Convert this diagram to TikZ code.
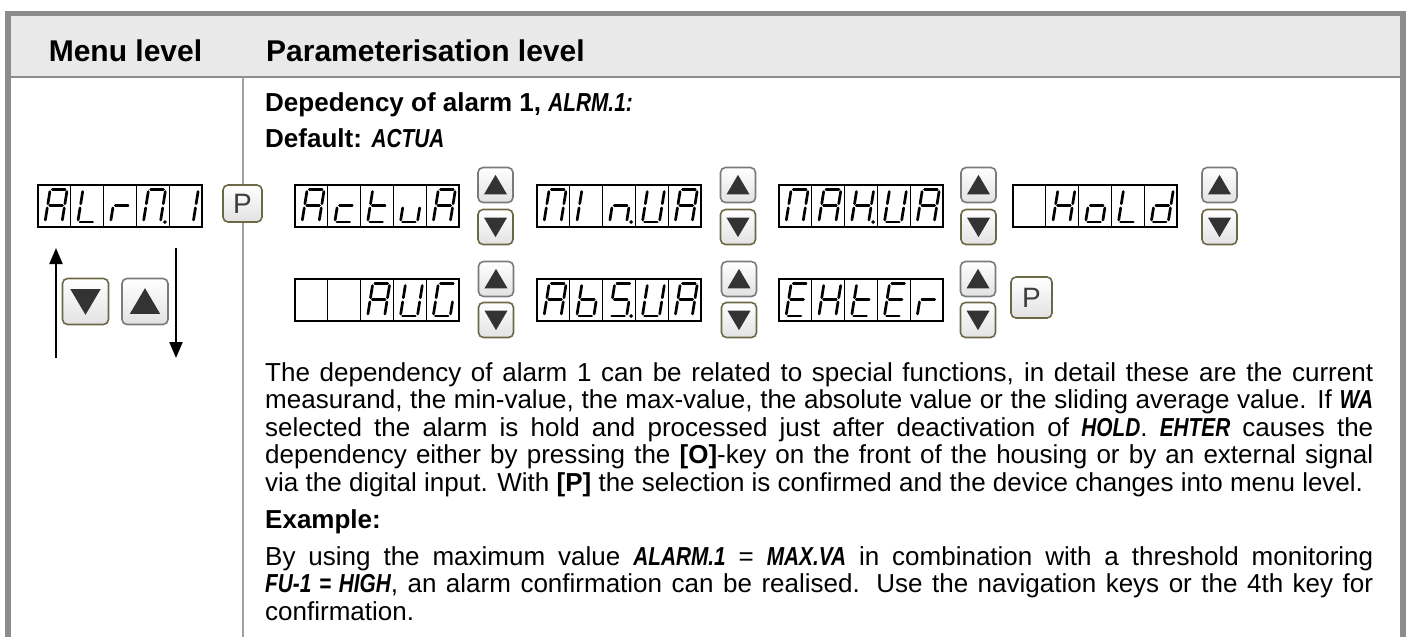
\documentclass[tikz,border=0pt]{standalone}
\usepackage{fontspec}
\setmainfont{Liberation Sans}
\newfontfamily\lcdfont{Liberation Sans}[FakeStretch=0.8]
\usetikzlibrary{calc,arrows.meta}
\definecolor{framegray}{HTML}{8C8C8C}
\definecolor{headfill}{HTML}{E9E9E9}
\definecolor{divgray}{HTML}{A0A0A0}
\definecolor{upgray}{HTML}{7A7A7A}
\definecolor{dnolive}{HTML}{6B6945}
\definecolor{trigray}{HTML}{333333}
\definecolor{pgray}{HTML}{3C3C3C}
\definecolor{keybot}{HTML}{E2E2E2}
\newcommand\lcdt[1]{{\lcdfont\bfseries\itshape #1}}
\makeatletter
\newcommand\segline[2]{\draw[seg] ($(#1)!2.1pt!(#2)$) -- ($(#2)!2.1pt!(#1)$);}
\def\seg@a{\segline{sTL}{sTR}}
\def\seg@b{\segline{sTR}{sMR}}
\def\seg@c{\segline{sMR}{sBR}}
\def\seg@d{\segline{sBL}{sBR}}
\def\seg@e{\segline{sML}{sBL}}
\def\seg@f{\segline{sTL}{sML}}
\def\seg@g{\segline{sML}{sMR}}
\def\seg@p{\fill (sDP) circle (1.9pt);}
\makeatother
\newcommand\lcdcell[3]{%
  \coordinate (sTL) at ({#1+12.2},{#2+4.5});
  \coordinate (sTR) at ({#1+29.2},{#2+4.5});
  \coordinate (sML) at ({#1+9.6},{#2+20.8});
  \coordinate (sMR) at ({#1+26.6},{#2+20.8});
  \coordinate (sBL) at ({#1+7},{#2+37});
  \coordinate (sBR) at ({#1+24},{#2+37});
  \coordinate (sDP) at ({#1+28.5},{#2+37});
  \foreach \s in {#3}{\csname seg@\s\endcsname}}
\newcommand\lcd[8]{%
  \node[lcdbox, anchor=north west] (#1) at (#2,#3) {};
  \foreach \k in {1,...,4}{\draw[lcdgrid] ($(#1.north west)+(\k*32.8,0)$) -- ($(#1.south west)+(\k*32.8,0)$);}
  \lcdcell{#2}{#3}{#4}\lcdcell{#2+32.8}{#3}{#5}\lcdcell{#2+65.6}{#3}{#6}%
  \lcdcell{#2+98.4}{#3}{#7}\lcdcell{#2+131.2}{#3}{#8}}
\newcommand\keyup[4]{%
  \node[keybox, draw=upgray, minimum width=#4pt, minimum height=#4pt] (#1) at (#2,#3) {};
  \fill[tri] ($(#1.center)+(0,-0.29*#4)$) -- ($(#1.center)+(0.33*#4,0.27*#4)$) -- ($(#1.center)+(-0.33*#4,0.27*#4)$) -- cycle;}
\newcommand\keydown[4]{%
  \node[keybox, draw=dnolive, minimum width=#4pt, minimum height=#4pt] (#1) at (#2,#3) {};
  \fill[tri] ($(#1.center)+(0,0.29*#4)$) -- ($(#1.center)+(0.33*#4,-0.27*#4)$) -- ($(#1.center)+(-0.33*#4,-0.27*#4)$) -- cycle;}
\tikzset{
  seg/.style={line width=2.7pt, line cap=round},
  lcdbox/.style={draw, line width=1.1pt, fill=white, minimum width=164pt, minimum height=42pt, inner sep=0pt, outer sep=0pt},
  lcdgrid/.style={line width=1.1pt},
  keybox/.style={rounded corners=5pt, line width=1.6pt, top color=white, bottom color=keybot, inner sep=0pt, outer sep=0pt},
  pkey/.style={keybox, draw=dnolive, text=pgray, font=\fontsize{28}{28}\selectfont},
  tri/.style={fill=trigray},
  navarrow/.style={line width=2.2pt, -{Triangle[length=16pt,width=13pt]}},
  body/.style={anchor=base west, inner sep=0pt, font=\fontsize{26}{28}\selectfont},
  bodybf/.style={anchor=base west, inner sep=0pt, font=\fontsize{26}{28}\selectfont\bfseries},
  hdr/.style={inner sep=0pt, font=\fontsize{30}{32}\selectfont\bfseries},
  framel/.style={draw=framegray, line width=5.5pt},
}
\begin{document}
\begin{tikzpicture}[x=1pt, y=-1pt]
\useasboundingbox (0,0) rectangle (1406,637);
% frame and header
\fill[headfill] (8,13) rectangle (1403,77);
\draw[framel] (8,640) -- (8,13.3) -- (1403,13.3) -- (1403,640);
\draw[draw=framegray, line width=2.5pt] (8,77) -- (1403,77);
\draw[draw=divgray, line width=2pt] (243,77) -- (243,640);
\node[hdr, anchor=base] (h1) at (125.5,61) {Menu level};
\node[hdr, anchor=base west] (h2) at (266,61) {Parameterisation level};
% titles
\node[bodybf] (t1) at (265,111) {Depedency of alarm 1, \lcdt{ALRM.1:}};
\node[bodybf] (t2) at (265,147) {Default: \lcdt{ACTUA}};
% menu level
\lcd{dm}{38}{185}{a,b,c,e,f,g}{d,e,f}{e,g}{a,b,c,e,f,p}{b,c}
\node[pkey, minimum width=39pt, minimum height=37pt] (p1) at (242.5,203.5) {P};
\coordinate (ua0) at (56,358); \coordinate (ua1) at (56,248);
\coordinate (da0) at (176,248); \coordinate (da1) at (176,358);
\draw[navarrow] (ua0) -- (ua1);
\draw[navarrow] (da0) -- (da1);
\keydown{lkd}{85.5}{301.5}{46}
\keyup{lku}{145}{301.5}{46}
% row 1
\lcd{d1}{295}{185}{a,b,c,e,f,g}{d,e,g}{d,e,f,g}{c,d,e}{a,b,c,e,f,g}
\keyup{k1u}{495.5}{185}{35}\keydown{k1d}{495.5}{227}{35}
\lcd{d2}{537}{185}{a,b,c,e,f}{e,f}{c,e,g,p}{b,c,d,e,f}{a,b,c,e,f,g}
\keyup{k2u}{738}{185}{35}\keydown{k2d}{738}{227}{35}
\lcd{d3}{779}{185}{a,b,c,e,f}{a,b,c,e,f,g}{b,c,e,f,g,p}{b,c,d,e,f}{a,b,c,e,f,g}
\keyup{k3u}{978.5}{185}{35}\keydown{k3d}{978.5}{227}{35}
\lcd{d4}{1013}{185}{}{b,c,e,f,g}{c,d,e,g}{d,e,f}{b,c,d,e,g}
\keyup{k4u}{1219.5}{185}{35}\keydown{k4d}{1219.5}{227}{35}
% row 2
\lcd{d5}{295}{279}{}{}{a,b,c,e,f,g}{b,c,d,e,f}{a,c,d,e,f}
\keyup{k5u}{496}{279}{35}\keydown{k5d}{496}{320}{35}
\lcd{d6}{537}{279}{a,b,c,e,f,g}{c,d,e,f,g}{a,c,d,f,g,p}{b,c,d,e,f}{a,b,c,e,f,g}
\keyup{k6u}{739}{279}{35}\keydown{k6d}{739}{320}{35}
\lcd{d7}{779}{279}{a,d,e,f,g}{b,c,e,f,g}{d,e,f,g}{a,d,e,f,g}{e,g}
\keyup{k7u}{978}{279}{35}\keydown{k7d}{978}{320}{35}
\node[pkey, minimum width=41pt, minimum height=41pt] (p2) at (1031.5,297.5) {P};
% body text
\node[body] (b1) at (265,381) {\makebox[1108pt][s]{The dependency of alarm 1 can be related to special functions, in detail these are the current}};
\node[body] (b2) at (265,408.5) {\makebox[1108pt][s]{measurand, the min-value, the max-value, the absolute value or the sliding average value. If \lcdt{WA}}};
\node[body] (b3) at (265,436) {\makebox[1108pt][s]{selected the alarm is hold and processed just after deactivation of \lcdt{HOLD}. \lcdt{EHTER} causes the}};
\node[body] (b4) at (265,463.5) {\makebox[1108pt][s]{dependency either by pressing the \textbf{[O]}-key on the front of the housing or by an external signal}};
\node[body] (b5) at (265,491) {via the digital input. With \textbf{[P]} the selection is confirmed and the device changes into menu level.};
\node[bodybf] (ex) at (265,528) {Example:};
\node[body] (b6) at (265,565) {\makebox[1108pt][s]{By using the maximum value \lcdt{ALARM.1} = \lcdt{MAX.VA} in combination with a threshold monitoring}};
\node[body] (b7) at (265,592.5) {\makebox[1108pt][s]{\lcdt{FU-1 = HIGH}, an alarm confirmation can be realised. Use the navigation keys or the 4th key for}};
\node[body] (b8) at (265,620) {confirmation.};
\end{tikzpicture}
\end{document}
